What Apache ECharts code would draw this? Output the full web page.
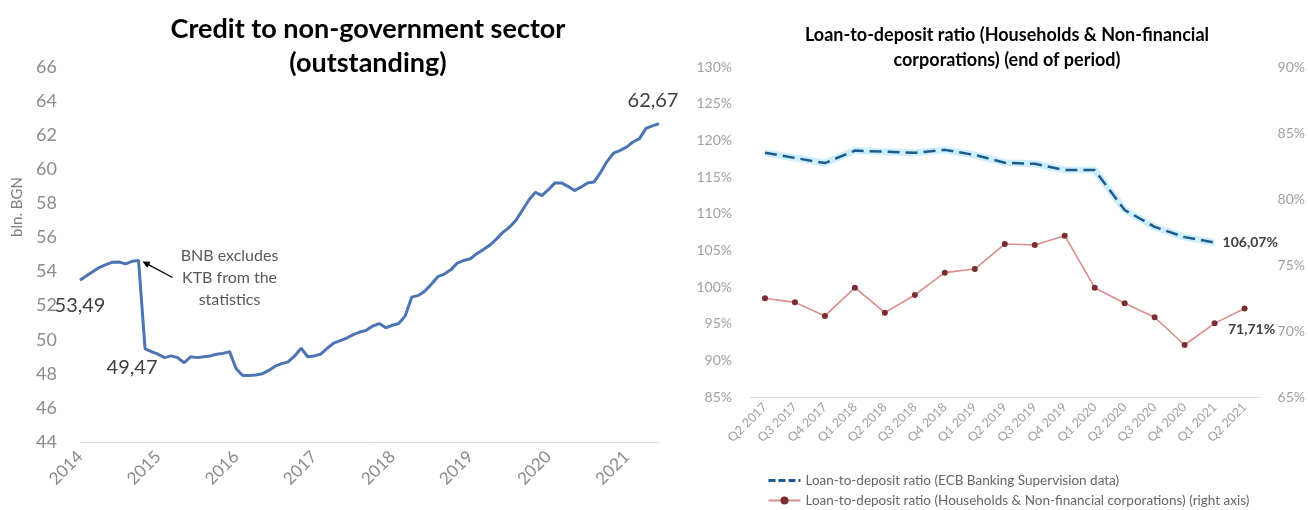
<!DOCTYPE html>
<html>
<head>
<meta charset="utf-8">
<script src="https://cdn.jsdelivr.net/npm/echarts@6/dist/echarts.min.js"></script>
<style>
  html, body { margin: 0; padding: 0; background: #ffffff; }
  #chart { width: 1308px; height: 510px; }
</style>
</head>
<body>
<div id="chart"></div>
<script>
// Credit to non-government sector, end of month, bln. BGN (Jan 2014 - Jun 2021)
const creditYears = ['2014', '2015', '2016', '2017', '2018', '2019', '2020', '2021'];
const creditValues = [
  53.49, 53.75, 54.00, 54.25, 54.40, 54.55, 54.56, 54.45, 54.60, 54.65, 49.47, 49.30,
  49.15, 48.95, 49.05, 48.95, 48.65, 49.00, 48.95, 49.00, 49.05, 49.15, 49.20, 49.30,
  48.30, 47.90, 47.90, 47.93, 48.00, 48.20, 48.45, 48.60, 48.70, 49.05, 49.50, 49.00,
  49.05, 49.15, 49.50, 49.80, 49.95, 50.10, 50.30, 50.45, 50.55, 50.80, 50.95, 50.70,
  50.85, 50.95, 51.40, 52.50, 52.60, 52.85, 53.25, 53.70, 53.85, 54.10, 54.50, 54.65,
  54.75, 55.05, 55.30, 55.55, 55.90, 56.30, 56.60, 57.00, 57.60, 58.20, 58.65, 58.45,
  58.80, 59.20, 59.20, 59.00, 58.75, 58.95, 59.20, 59.25, 59.80, 60.45, 60.95, 61.10,
  61.30, 61.60, 61.80, 62.40, 62.55, 62.67
];
const creditAxisMin = 44, creditAxisMax = 66, creditAxisStep = 2;
const creditUnit = 'bln. BGN';
const creditNote = 'BNB excludes\nKTB from the\nstatistics';
const creditNoteIndex = 9;          // last month before KTB left the statistics
const creditLabelled = [0, 10, creditValues.length - 1];

// Loan-to-deposit ratios, quarterly, %
const quarters = ['Q2 2017', 'Q3 2017', 'Q4 2017', 'Q1 2018', 'Q2 2018', 'Q3 2018', 'Q4 2018',
  'Q1 2019', 'Q2 2019', 'Q3 2019', 'Q4 2019', 'Q1 2020', 'Q2 2020', 'Q3 2020', 'Q4 2020',
  'Q1 2021', 'Q2 2021'];
const ldrEcb = [118.3, 117.6, 116.9, 118.6, 118.45, 118.3, 118.7, 118.0, 116.95, 116.8,
  115.95, 115.95, 110.5, 108.2, 106.8, 106.07];
const ldrHouseholdsNfc = [72.48, 72.17, 71.14, 73.28, 71.39, 72.73, 74.42, 74.70, 76.59, 76.52,
  77.22, 73.28, 72.10, 71.04, 68.94, 70.58, 71.71];
const ldrLeftMin = 85, ldrLeftMax = 130, ldrRightMin = 65, ldrRightMax = 90, ldrStep = 5;
const ldrEcbName = 'Loan-to-deposit ratio (ECB Banking Supervision data)';
const ldrHhName = 'Loan-to-deposit ratio (Households & Non-financial corporations) (right axis)';

// monthly category keys built from the year list
const creditMonths = [];
creditYears.forEach(function (y) {
  for (let m = 1; m <= 12; m++) creditMonths.push(y + '-' + (m < 10 ? '0' + m : m));
});
creditMonths.length = creditValues.length;

const FONT = 'Lato, "Open Sans", sans-serif';
const comma = function (v, digits) { return v.toFixed(digits).replace('.', ','); };

const creditLabelPos = {
  0: { position: 'bottom', distance: 15, offset: [0, 0] },
  10: { position: 'bottom', distance: 9, offset: [-13, 0] }
};
const creditData = creditValues.map(function (v, i) {
  if (creditLabelled.indexOf(i) < 0) return v;
  const pos = creditLabelPos[i] || { position: 'top', distance: 13, offset: [-6, 0] };
  return {
    value: v,
    label: Object.assign({
      show: true, formatter: function (p) { return comma(p.value, 2); },
      fontFamily: FONT, fontSize: 20, color: '#404040'
    }, pos)
  };
});

const ecbData = ldrEcb.map(function (v, i) {
  if (i !== ldrEcb.length - 1) return v;
  return { value: v, label: { show: true, position: 'right', distance: 8,
    formatter: function (p) { return comma(p.value, 2) + '%'; },
    fontFamily: FONT, fontSize: 14, fontWeight: 'bold', color: '#404040' } };
});
const hhData = ldrHouseholdsNfc.map(function (v, i) {
  if (i !== ldrHouseholdsNfc.length - 1) return v;
  return { value: v, label: { show: true, position: 'bottom', distance: 11, offset: [7, 0],
    formatter: function (p) { return comma(p.value, 2) + '%'; },
    fontFamily: FONT, fontSize: 14, fontWeight: 'bold', color: '#404040' } };
});

const chart = echarts.init(document.getElementById('chart'), null, { renderer: 'canvas' });

const grayLabel = { fontFamily: FONT, color: '#8c8c8c' };
const lightLabel = { fontFamily: FONT, color: '#a0a0a0' };

chart.setOption({
  animation: false,
  backgroundColor: '#ffffff',
  title: [
    { text: 'Credit to non-government sector\n(outstanding)', left: 363, top: 7, textAlign: 'center',
      textStyle: { fontFamily: FONT, fontSize: 27, fontWeight: 'bold', color: '#000000', lineHeight: 34 } },
    { text: 'Loan-to-deposit ratio (Households & Non-financial\ncorporations) (end of period)', left: 1002, top: 18,
      textAlign: 'center',
      textStyle: { fontFamily: FONT, fontSize: 18, fontWeight: 'bold', color: '#000000', lineHeight: 25 } }
  ],
  legend: {
    data: [
      { name: ldrEcbName, itemStyle: { opacity: 0 }, lineStyle: { type: [7, 3], width: 3, color: '#1f5a8c' } },
      { name: ldrHhName }
    ],
    orient: 'vertical', left: 767, top: 473, height: 40, padding: 0,
    itemGap: 5, itemWidth: 32, itemHeight: 10,
    textStyle: { fontFamily: FONT, fontSize: 13.5, lineHeight: 15, color: '#666666' }
  },
  grid: [
    { left: 80, right: 649, top: 67, bottom: 68 },
    { left: 750, right: 47, top: 67, bottom: 113 }
  ],
  xAxis: [
    { type: 'category', gridIndex: 0, data: creditMonths, boundaryGap: false,
      axisLine: { lineStyle: { color: '#d9d9d9', width: 1 } }, axisTick: { show: false },
      axisLabel: Object.assign({ fontSize: 17, rotate: 45, margin: 12,
        interval: function (i) { return i % 12 === 0; },
        formatter: function (v) { return v.slice(0, 4); } }, grayLabel),
      splitLine: { show: false } },
    { type: 'category', gridIndex: 1, data: quarters, boundaryGap: true,
      axisLine: { lineStyle: { color: '#d9d9d9', width: 1 } }, axisTick: { show: false },
      axisLabel: Object.assign({ fontSize: 12.5, rotate: 45, margin: 8, interval: 0 }, lightLabel),
      splitLine: { show: false } }
  ],
  yAxis: [
    { type: 'value', gridIndex: 0, min: creditAxisMin, max: creditAxisMax, interval: creditAxisStep,
      axisLine: { show: false }, axisTick: { show: false }, splitLine: { show: false },
      axisLabel: Object.assign({ fontSize: 18, margin: 23 }, grayLabel) },
    { type: 'value', gridIndex: 1, min: ldrLeftMin, max: ldrLeftMax, interval: ldrStep,
      axisLine: { show: false }, axisTick: { show: false }, splitLine: { show: false },
      axisLabel: Object.assign({ fontSize: 14, margin: 18, formatter: '{value}%' }, lightLabel) },
    { type: 'value', gridIndex: 1, position: 'right', min: ldrRightMin, max: ldrRightMax, interval: ldrStep,
      axisLine: { show: false }, axisTick: { show: false }, splitLine: { show: false },
      axisLabel: Object.assign({ fontSize: 14, margin: 18, formatter: '{value}%' }, lightLabel) }
  ],
  series: [
    { name: 'credit', type: 'line', xAxisIndex: 0, yAxisIndex: 0, data: creditData,
      symbol: 'circle', symbolSize: 0, showSymbol: true,
      lineStyle: { color: '#4d74b3', width: 3 }, itemStyle: { color: '#4d74b3' }, z: 3 },
    // soft halo drawn under the dashed ECB line
    { name: 'ecbHalo', type: 'line', xAxisIndex: 1, yAxisIndex: 1, data: ldrEcb,
      symbol: 'none', lineStyle: { color: '#cdeffb', width: 7 }, silent: true, z: 2 },
    { name: ldrEcbName, type: 'line', xAxisIndex: 1, yAxisIndex: 1, data: ecbData,
      symbol: 'circle', symbolSize: 0, showSymbol: true,
      lineStyle: { color: '#1f5a8c', width: 2.5, type: [12, 6] },
      itemStyle: { color: '#1f5a8c' }, z: 3 },
    { name: ldrHhName, type: 'line', xAxisIndex: 1, yAxisIndex: 2, data: hhData,
      symbol: 'circle', symbolSize: 6, showSymbol: true,
      lineStyle: { color: '#d98e8c', width: 1.6 },
      itemStyle: { color: '#7a2e33', borderWidth: 0 }, z: 3 }
  ]
});

// unit caption beside the left value axis, arrow and note at the statistical break
(function () {
  const top = chart.convertToPixel({ gridIndex: 0 }, [0, creditAxisMax]);
  const tip = chart.convertToPixel({ gridIndex: 0 }, [creditNoteIndex, creditValues[creditNoteIndex]]);
  const tx = tip[0] + 4, ty = tip[1] + 1;
  const sx = tx + 30, sy = ty + 16;
  const ang = Math.atan2(ty - sy, tx - sx);
  const head = 8, spread = 0.45;
  chart.setOption({
    graphic: [
      { type: 'text', x: top[0] - 63, y: top[1] + 140, rotation: Math.PI / 2,
        style: { text: creditUnit, fill: '#7f7f7f', font: '15px ' + FONT, align: 'center',
          verticalAlign: 'middle' }, z: 10 },
      { type: 'line', shape: { x1: sx, y1: sy, x2: tx - Math.cos(ang) * 4, y2: ty - Math.sin(ang) * 4 },
        style: { stroke: '#000000', lineWidth: 1.2 }, z: 10 },
      { type: 'polygon', shape: { points: [
          [tx, ty],
          [tx - head * Math.cos(ang - spread), ty - head * Math.sin(ang - spread)],
          [tx - head * Math.cos(ang + spread), ty - head * Math.sin(ang + spread)]
        ] }, style: { fill: '#000000' }, z: 10 },
      { type: 'text', x: tip[0] + 91, y: tip[1] - 16,
        style: { text: creditNote, fill: '#595959', font: '16px ' + FONT, align: 'center',
          verticalAlign: 'top', lineHeight: 22 }, z: 10 }
    ]
  });
})();
</script>
</body>
</html>
